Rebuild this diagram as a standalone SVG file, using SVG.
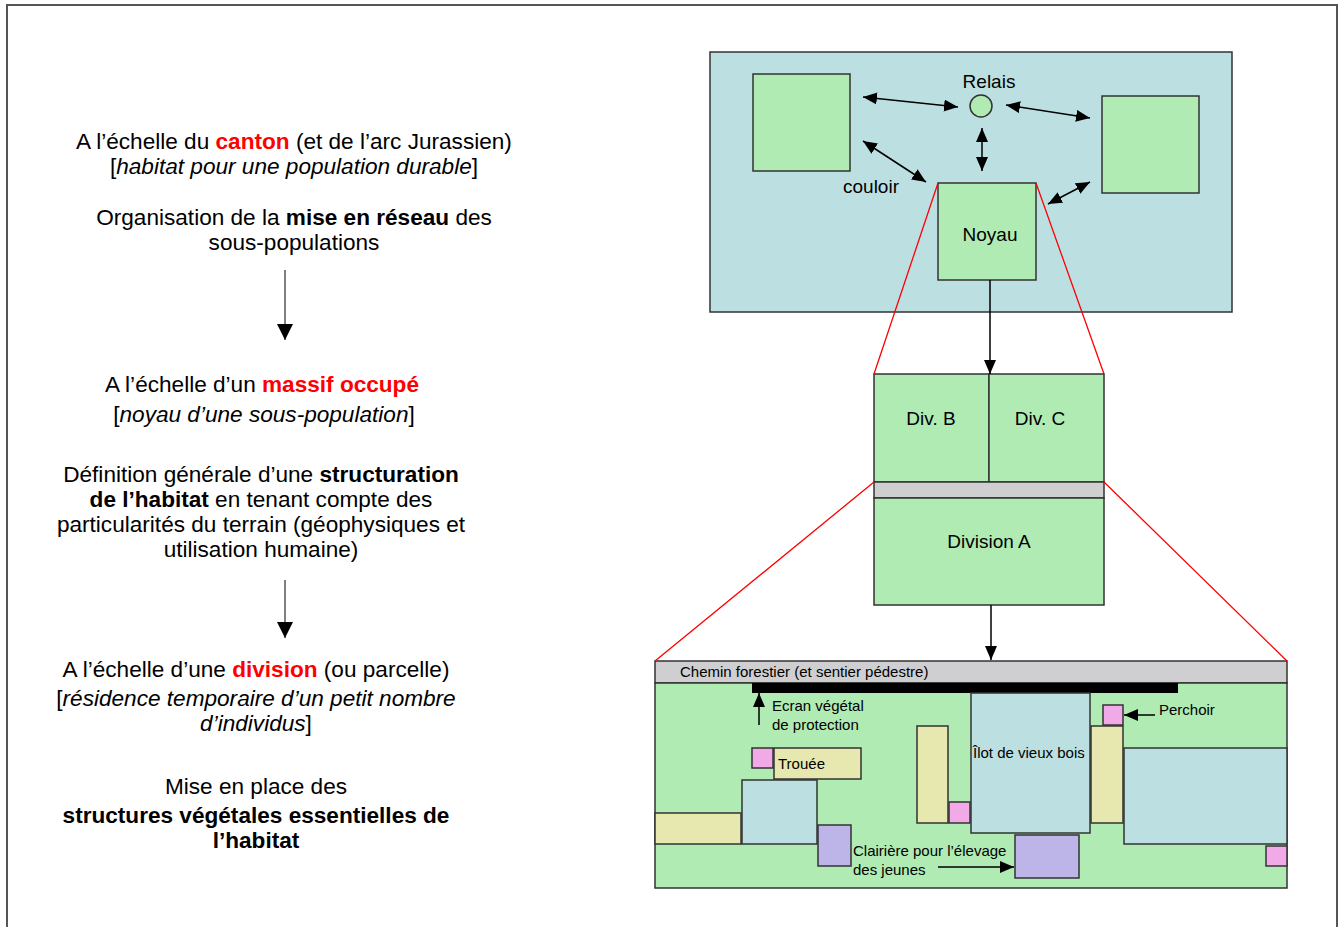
<svg xmlns="http://www.w3.org/2000/svg" width="1343" height="927" viewBox="0 0 1343 927">
<style>
text{font-family:"Liberation Sans",Arial,sans-serif;fill:#000}
.l{font-size:22.6px}
.m{font-size:19px}
.s{font-size:15px}
.b{font-weight:bold}
.r{fill:#ff0000;font-weight:bold}
.i{font-style:italic}
.g{fill:#b0ebb4;stroke:#333;stroke-width:1.5}
.c{fill:#bce0e2;stroke:#333;stroke-width:1.5}
.y{fill:#e6e8b0;stroke:#333;stroke-width:1.5}
.p{fill:#f2a9e8;stroke:#333;stroke-width:1.5}
.v{fill:#bdb5e8;stroke:#333;stroke-width:1.5}
.gr{fill:#cfcfd1;stroke:#333;stroke-width:1.5}
.red{stroke:#ff0000;stroke-width:1.3;fill:none}
.a{stroke:#000;stroke-width:1.5;fill:none}
</style>
<defs>
<marker id="ah" markerUnits="userSpaceOnUse" markerWidth="14" markerHeight="12" refX="14" refY="6" orient="auto-start-reverse" viewBox="0 0 14 12"><path d="M0,0L14,6L0,12z" fill="#000"/></marker>
<marker id="big" markerUnits="userSpaceOnUse" markerWidth="16" markerHeight="16" refX="16" refY="8" orient="auto" viewBox="0 0 16 16"><path d="M0,0L16,8L0,16z" fill="#000"/></marker>
</defs>
<rect width="1343" height="927" fill="#fff"/>
<path d="M7,927V5H1337V927" fill="none" stroke="#555" stroke-width="2"/>

<g id="left-text">
<text class="l" x="294" y="149" text-anchor="middle">A l’échelle du <tspan class="r">canton</tspan> (et de l’arc Jurassien)</text>
<text class="l" x="294" y="174" text-anchor="middle">[<tspan class="i">habitat pour une population durable</tspan>]</text>
<text class="l" x="294" y="225" text-anchor="middle">Organisation de la <tspan class="b">mise en réseau</tspan> des</text>
<text class="l" x="294" y="250" text-anchor="middle">sous-populations</text>
<text class="l" x="262" y="392" text-anchor="middle">A l’échelle d’un <tspan class="r">massif occupé</tspan></text>
<text class="l" x="264" y="422" text-anchor="middle">[<tspan class="i">noyau d’une sous-population</tspan>]</text>
<text class="l" x="261" y="482" text-anchor="middle">Définition générale d’une <tspan class="b">structuration</tspan></text>
<text class="l" x="261" y="507" text-anchor="middle"><tspan class="b">de l’habitat</tspan> en tenant compte des</text>
<text class="l" x="261" y="532" text-anchor="middle">particularités du terrain (géophysiques et</text>
<text class="l" x="261" y="557" text-anchor="middle">utilisation humaine)</text>
<text class="l" x="256" y="677" text-anchor="middle">A l’échelle d’une <tspan class="r">division</tspan> (ou parcelle)</text>
<text class="l" x="256" y="706" text-anchor="middle">[<tspan class="i">résidence temporaire d’un petit nombre</tspan></text>
<text class="l" x="256" y="731" text-anchor="middle"><tspan class="i">d’individus</tspan>]</text>
<text class="l" x="256" y="794" text-anchor="middle">Mise en place des</text>
<text class="l b" x="256" y="823" text-anchor="middle">structures végétales essentielles de</text>
<text class="l b" x="256" y="848" text-anchor="middle">l’habitat</text>
</g>

<g id="left-arrows">
<line x1="285" y1="270" x2="285" y2="340" stroke="#555" stroke-width="1.5" marker-end="url(#big)"/>
<line x1="285" y1="580" x2="285" y2="638" stroke="#555" stroke-width="1.5" marker-end="url(#big)"/>
</g>

<g id="canton-panel">
<rect class="c" x="710" y="52" width="522" height="260"/>
</g>
<g id="pop-left"><rect class="g" x="753" y="74" width="97" height="97"/></g>
<g id="pop-right"><rect class="g" x="1102" y="96" width="97" height="97"/></g>
<g id="relais"><circle class="g" cx="981" cy="106" r="11"/><text class="m" x="989" y="88" text-anchor="middle">Relais</text></g>
<g id="noyau"><rect class="g" x="938" y="183" width="98" height="97"/><text class="m" x="990" y="241" text-anchor="middle">Noyau</text></g>
<text class="m" x="843" y="193">couloir</text>

<g id="massif">
<g id="divB"><rect class="g" x="874" y="374" width="115" height="108"/><text class="m" x="931" y="425" text-anchor="middle">Div. B</text></g>
<g id="divC"><rect class="g" x="989" y="374" width="115" height="108"/><text class="m" x="1040" y="425" text-anchor="middle">Div. C</text></g>
<rect class="gr" x="874" y="482" width="230" height="16"/>
<g id="divA"><rect class="g" x="874" y="498" width="230" height="107"/><text class="m" x="989" y="548" text-anchor="middle">Division A</text></g>
</g>

<g id="division">
<rect class="gr" x="655" y="661" width="632" height="22"/>
<text class="s" x="680" y="677">Chemin forestier (et sentier pédestre)</text>
<rect class="g" x="655" y="683" width="632" height="205"/>
<rect x="752" y="683" width="426" height="10" fill="#000"/>
<rect class="c" x="971" y="693" width="119" height="140"/>
<text class="s" x="973" y="758">Îlot de vieux bois</text>
<rect class="p" x="1103" y="705" width="20" height="20"/>
<rect class="y" x="1091" y="726" width="32" height="97"/>
<rect class="c" x="1124" y="748" width="163" height="96"/>
<rect class="p" x="1266" y="846" width="21" height="20"/>
<rect class="y" x="917" y="726" width="31" height="97"/>
<rect class="p" x="949" y="802" width="21" height="21"/>
<rect class="v" x="1015" y="835" width="64" height="43"/>
<rect class="v" x="818" y="825" width="33" height="41"/>
<rect class="c" x="742" y="780" width="75" height="64"/>
<rect class="y" x="655" y="813" width="86" height="31"/>
<rect class="p" x="752" y="748" width="21" height="20"/>
<rect class="y" x="774" y="748" width="87" height="31"/>
<text class="s" x="778" y="769">Trouée</text>
<text class="s" x="772" y="711">Ecran végétal</text>
<text class="s" x="772" y="730">de protection</text>
<text class="s" x="1159" y="715">Perchoir</text>
<text class="s" x="853" y="856">Clairière pour l’élevage</text>
<text class="s" x="853" y="875">des jeunes</text>
</g>

<g id="connectors">
<line class="a" x1="863" y1="97" x2="958" y2="107" marker-start="url(#ah)" marker-end="url(#ah)"/>
<line class="a" x1="1006" y1="105" x2="1090" y2="118" marker-start="url(#ah)" marker-end="url(#ah)"/>
<line class="a" x1="982" y1="128" x2="982" y2="171" marker-start="url(#ah)" marker-end="url(#ah)"/>
<line class="a" x1="863" y1="141" x2="926" y2="182" marker-start="url(#ah)" marker-end="url(#ah)"/>
<line class="a" x1="1048" y1="204" x2="1090" y2="182" marker-start="url(#ah)" marker-end="url(#ah)"/>
<line class="a" x1="990" y1="280" x2="990" y2="374" marker-end="url(#ah)"/>
<line class="a" x1="991" y1="605" x2="991" y2="660" marker-end="url(#ah)"/>
<line class="a" x1="759" y1="725" x2="759" y2="693" marker-end="url(#ah)"/>
<line class="a" x1="1155" y1="715" x2="1124" y2="715" marker-end="url(#ah)"/>
<line class="a" x1="938" y1="867" x2="1014" y2="867" marker-end="url(#ah)"/>
<path class="red" d="M938,183L874,374M1036,183L1104,374M874,482L655,661M1104,482L1287,661"/>
</g>
</svg>
